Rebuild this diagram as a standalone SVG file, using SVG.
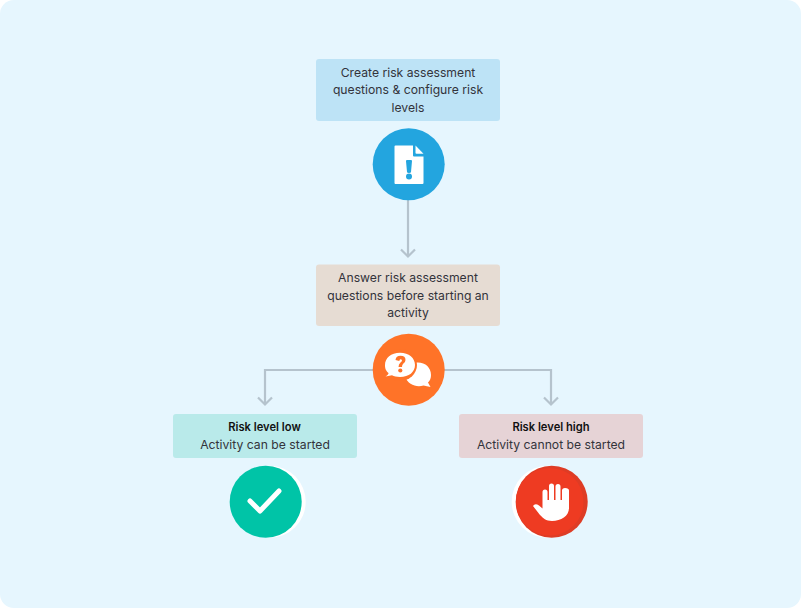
<svg xmlns="http://www.w3.org/2000/svg" width="801" height="608" viewBox="0 0 801 608">
<style>
text{font-family:"Inter","Liberation Sans",sans-serif;font-size:12.2px;fill:#33333b;text-anchor:middle}
.b{font-weight:600;fill:#111;font-size:11.2px}
.c{fill:none;stroke:#b5c3cd;stroke-width:2.2}
.w{fill:#fff}
</style>
<rect width="801" height="608" fill="#fff"/>
<rect width="801" height="608" rx="14" fill="#e6f6fe"/>
<g id="connectors">
<path class="c" d="M408 200V256M401 249.500L408 256.500L415 249.500"/>
<path class="c" d="M374 370H265V404M258 397.500L265 404.500L272 397.500"/>
<path class="c" d="M444 370H551V404M544 397.500L551 404.500L558 397.500"/>
</g>
<g id="node-create">
<rect x="316" y="59" width="184" height="62" rx="3" fill="#bde3f6"/>
<text x="408" y="76.800">Create risk assessment</text>
<text x="408" y="94.300">questions &amp; configure risk</text>
<text x="408" y="111.800">levels</text>
</g>
<g id="icon-document">
<circle cx="408.700" cy="164.300" r="36" fill="#23a5df"/>
<path class="w" d="M395.500 145.500Q394.500 145.500 394.500 146.500V183Q394.500 184 395.500 184H422.500Q423.500 184 423.500 183V156.500H414Q413 156.500 413 155.500V145.500Z"/>
<path class="w" d="M415.500 145.500L423.500 153.800H416.500Q415.500 153.800 415.500 153Z"/>
<path fill="#23a5df" d="M406 161Q406 160 407 160H411Q412 160 412 161L411 172Q411 173 409 173Q407 173 407 172Z"/>
<circle cx="409" cy="176.500" r="3" fill="#23a5df"/>
</g>
<g id="node-answer">
<rect x="316" y="264.500" width="184" height="61.500" rx="3" fill="#e6dcd3"/>
<text x="408" y="282.300">Answer risk assessment</text>
<text x="408" y="299.800">questions before starting an</text>
<text x="408" y="317.300">activity</text>
</g>
<g id="icon-chat">
<circle cx="408.700" cy="369.700" r="36" fill="#ff7328"/>
<path class="w" d="M414 363C424 361 431 367 431 375C431 378 430 380.500 428 382.500L430.500 387L423.500 385.500C416 388 408 384 405 377Z"/>
<ellipse cx="400" cy="365" rx="17" ry="16" fill="#ff7328"/>
<path class="w" d="M385.500 376.500C388 375 388.500 374 388.500 373C385 370 385 367 385 365C385 358 391 352.700 400 352.700C409 352.700 415 358 415 365C415 372 409 377 400 377C396.500 377 394 376.300 392 375.300Z"/>
<path fill="#ff7328" d="M395.500 360Q396 355.800 400.500 355.800Q405.500 355.800 405.500 360Q405.500 362.500 403 364Q402 365 402 367H398.500Q398.500 364 400.500 362.500Q402 361.500 402 360.300Q401.500 359.200 400.500 359.300Q399.500 359.500 399.300 361Z"/>
<circle cx="400.300" cy="370.500" r="2.100" fill="#ff7328"/>
</g>
<g id="node-low">
<rect x="173" y="414" width="184" height="44" rx="3" fill="#b9eaea"/>
<text class="b" x="264.500" y="431">Risk level low</text>
<text x="265" y="449">Activity can be started</text>
</g>
<g id="icon-check">
<circle cx="269.700" cy="501.700" r="36" class="w"/>
<circle cx="265.700" cy="501.700" r="36" fill="#00c4a7"/>
<path d="M250 501L260 511L279 491" fill="none" stroke="#fff" stroke-width="5" stroke-linecap="round" stroke-linejoin="round"/>
</g>
<g id="node-high">
<rect x="459" y="414" width="184" height="44" rx="3" fill="#e6d3d6"/>
<text class="b" x="551" y="431">Risk level high</text>
<text x="551" y="449">Activity cannot be started</text>
</g>
<g id="icon-stop">
<circle cx="547.700" cy="501.700" r="36" class="w"/>
<circle cx="551.700" cy="501.700" r="36" fill="#de3c25"/>
<circle cx="549.700" cy="501.700" r="33.800" fill="#ee3b22"/>
<path class="w" d="M533 506Q535 503 539 505.500L542.500 508.500V492Q542.500 489.500 545 489.500Q547.500 489.500 547.500 492V500H549V486Q549 483.500 551.500 483.500Q554 483.500 554 486V500H555.500V486.500Q555.500 484 558 484Q560.500 484 560.500 486.500V500H562V490.500Q562 488 565 488Q569 488 569 490.500V508C569 516 561 521 552 521C546 521 543 518 540 515Z"/>
</g>
</svg>
